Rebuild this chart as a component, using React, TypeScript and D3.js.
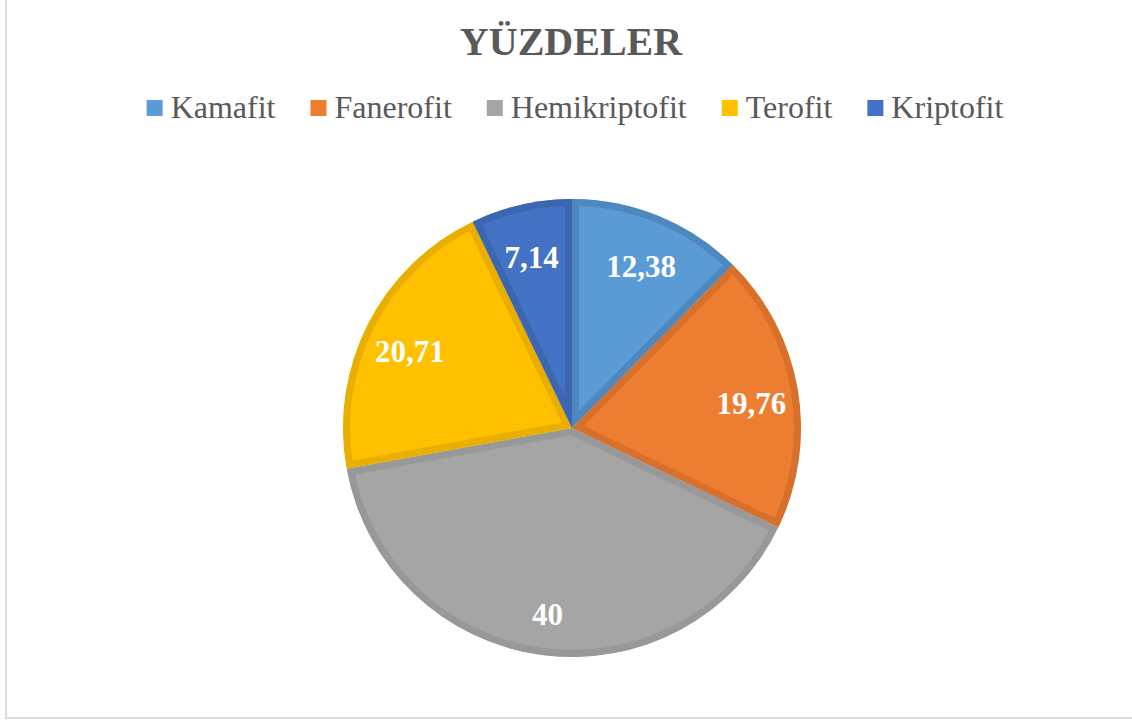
import React, { useEffect, useRef } from "react";
import * as d3 from "d3";

const categories = ["Kamafit", "Fanerofit", "Hemikriptofit", "Terofit", "Kriptofit"];
const values = [12.38, 19.76, 40, 20.71, 7.14];
const valueLabels = ["12,38", "19,76", "40", "20,71", "7,14"];
const fillColors = ["#5B9BD5", "#ED7D31", "#A5A5A5", "#FFC000", "#4472C4"];
const strokeColors = ["#4E88BF", "#D6702A", "#989898", "#E8AE00", "#3D66B0"];
const title = "YÜZDELER";

export default function App() {
  const ref = useRef<SVGSVGElement>(null);

  useEffect(() => {
    const svg = d3.select(ref.current);
    svg.selectAll("*").remove();
    const font = "'Liberation Serif', 'Times New Roman', serif";

    svg.append("rect").attr("x", 6).attr("y", -10).attr("width", 1140).attr("height", 728)
      .attr("fill", "#fff").attr("stroke", "#D9D9D9").attr("stroke-width", 2);

    svg.append("text").attr("x", 571).attr("y", 55).attr("text-anchor", "middle")
      .attr("font-family", font).attr("font-weight", "bold").attr("font-size", 40)
      .attr("fill", "#595959").text(title);

    // legend
    const lg = svg.append("g");
    const items = lg.selectAll("g").data(categories).join("g");
    items.append("rect").attr("width", 16).attr("height", 16).attr("y", 100)
      .attr("fill", (_d, i) => fillColors[i]);
    items.append("text").attr("y", 118).attr("font-family", font).attr("font-size", 32)
      .attr("fill", "#595959").text(d => d);
    let x = 0;
    const xs: number[] = [];
    items.each(function () {
      const t = d3.select(this).select("text").node() as SVGTextElement;
      xs.push(x);
      x += 24 + t.getComputedTextLength() + 35;
    });
    const total = x - 35;
    const start = 575 - total / 2;
    items.attr("transform", (_d, i) => `translate(${start + xs[i]},0)`);
    items.select("text").attr("x", 24);

    // pie
    const cx = 572, cy = 428, R = 229;
    const pie = d3.pie<number>().sort(null).value(d => d);
    const arcs = pie(values);
    const arc = d3.arc<d3.PieArcDatum<number>>().innerRadius(0).outerRadius(R);
    const g = svg.append("g").attr("transform", `translate(${cx},${cy})`);
    const defs = svg.append("defs");
    arcs.forEach((a, i) => {
      defs.append("clipPath").attr("id", `clip${i}`).append("path").attr("d", arc(a)!);
    });
    g.selectAll("path.slice").data(arcs).join("path").attr("class", "slice")
      .attr("d", d => arc(d)!)
      .attr("fill", (_d, i) => fillColors[i])
      .attr("stroke", (_d, i) => strokeColors[i])
      .attr("stroke-width", 14)
      .attr("stroke-linejoin", "miter")
      .attr("clip-path", (_d, i) => `url(#clip${i})`);

    const labelArc = d3.arc<d3.PieArcDatum<number>>().innerRadius(182).outerRadius(182);
    g.selectAll("text.lbl").data(arcs).join("text").attr("class", "lbl")
      .attr("transform", d => `translate(${labelArc.centroid(d)})`)
      .attr("text-anchor", "middle").attr("dy", "0.55em")
      .attr("font-family", font).attr("font-weight", "bold").attr("font-size", 31)
      .attr("fill", "#fff").text((_d, i) => valueLabels[i]);
  }, []);

  return (
    <svg ref={ref} width={1132} height={722}
      style={{ position: "absolute", left: 0, top: 0, background: "#fff" }} />
  );
}
